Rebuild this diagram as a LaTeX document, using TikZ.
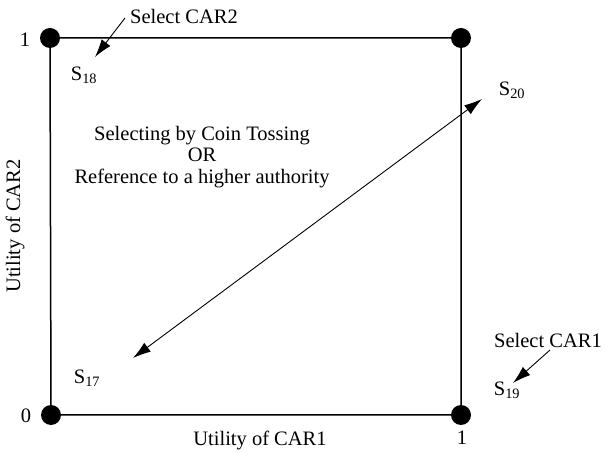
\documentclass[tikz,border=0pt]{standalone}
\usepackage{fontspec}
\setmainfont{Liberation Serif}
\usetikzlibrary{arrows.meta}

\begin{document}
\begin{tikzpicture}  % ------ utilites CAR1 / CAR2 --------------
      [x=1pt,y=-1pt,
       lbl/.style={font=\fontsize{20.5}{21.5}\selectfont},
       pointe/.tip={Latex[length=18pt,width=11pt]},
       fleche/.style={-pointe,line width=.9pt}]
    \useasboundingbox (0,0) rectangle (606,454);
    \coordinate (A1) at (51,415);
    \coordinate (A2) at (461,415);
    \coordinate (A3) at (461,38);
    \coordinate (A4) at (50,38);

    \draw[line width=1.5pt] (A1) -- (A2) -- (A3) -- (A4) -- cycle ;
    \foreach \p in {A1,A2,A3,A4} \fill (\p) circle (10pt) ;

    \node[lbl] (zero) at (26,416) {0};
    \node[lbl] (unY) at (25,40) {1};
    \node[lbl] (unX) at (462,438) {1};
    \node[lbl] (axeX) at (260,440) {Utility of CAR1};
    \node[lbl,rotate=90] (axeY) at (15,226) {Utility of CAR2};

    \node[lbl,align=center] (choix) at (202,157)
        {Selecting by Coin Tossing\\OR\\Reference to a higher authority};

    \node[lbl] (S17) at (87,378) {S\textsubscript{17}};
    \node[lbl] (S18) at (84,75) {S\textsubscript{18}};
    \node[lbl] (S19) at (507,390) {S\textsubscript{19}};
    \node[lbl] (S20) at (512,90) {S\textsubscript{20}};

    \node[lbl] (car2) at (184,16) {Select CAR2};
    \node[lbl] (car1) at (548,340) {Select CAR1};

    \coordinate (B1) at (125,18);
    \coordinate (B2) at (95,57);
    \coordinate (C1) at (550,350);
    \coordinate (C2) at (513,383);
    \coordinate (D1) at (133,358);
    \coordinate (D2) at (482,99);

    \draw[fleche] (B1) -- (B2) ;
    \draw[fleche] (C1) -- (C2) ;
    \draw[pointe-pointe,line width=.9pt] (D1) -- (D2) ;
\end{tikzpicture}
\end{document}
